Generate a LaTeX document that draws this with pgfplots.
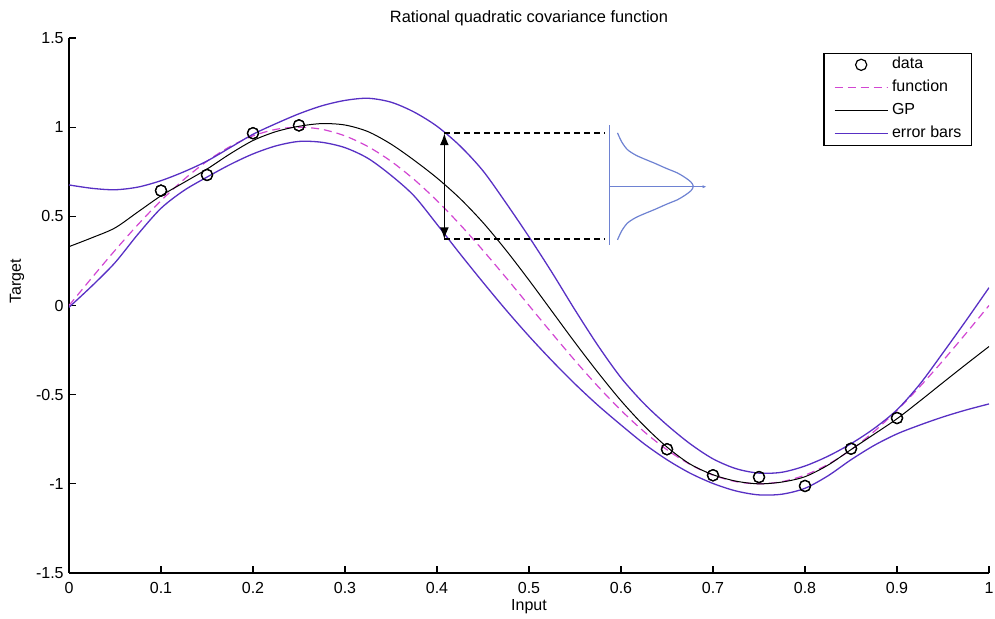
\documentclass[border=0pt]{standalone}
\usepackage{fontspec}
\setmainfont{Liberation Sans}
\usepackage{pgfplots}
\usepackage{pgfplotstable}
\pgfplotsset{compat=1.18}
\usetikzlibrary{arrows.meta,calc}
\definecolor{errc}{RGB}{88,48,196}
\definecolor{funcc}{RGB}{210,70,210}
\definecolor{annc}{RGB}{110,130,210}

\pgfplotstableread{
x      f        m       u       l
0      0        0.33    0.676   -0.01
0.025  0.1564   0.38    0.657   0.11
0.05   0.3090   0.435   0.649   0.24
0.075  0.4540   0.525   0.664   0.40
0.1    0.5878   0.615   0.70    0.545
0.125  0.7071   0.69    0.75    0.645
0.15   0.8090   0.765   0.81    0.72
0.175  0.8910   0.85    0.885   0.79
0.2    0.9511   0.925   0.96    0.85
0.225  0.9877   0.975   1.02    0.895
0.25   1        1.005   1.075   0.92
0.275  0.9877   1.02    1.12    0.915
0.3    0.9511   1.012   1.15    0.885
0.325  0.8910   0.975   1.162   0.825
0.35   0.8090   0.905   1.14    0.73
0.375  0.7071   0.815   1.085   0.615
0.4    0.5878   0.715   1.005   0.455
0.425  0.4540   0.60    0.895   0.29
0.45   0.3090   0.465   0.755   0.13
0.475  0.1564   0.31    0.575   -0.025
0.5    0        0.142   0.385   -0.172
0.525  -0.1564  -0.033  0.185   -0.31
0.55   -0.3090  -0.208  -0.025  -0.44
0.575  -0.4540  -0.376  -0.225  -0.56
0.6    -0.5878  -0.534  -0.405  -0.67
0.625  -0.7071  -0.674  -0.55   -0.775
0.65   -0.8090  -0.794  -0.67   -0.865
0.675  -0.8910  -0.889  -0.775  -0.94
0.7    -0.9511  -0.949  -0.86   -0.998
0.725  -0.9877  -0.985  -0.915  -1.04
0.75   -1       -1.0    -0.94   -1.062
0.775  -0.9877  -0.99   -0.935  -1.058
0.8    -0.9511  -0.96   -0.9    -1.025
0.825  -0.8910  -0.895  -0.845  -0.955
0.85   -0.8090  -0.808  -0.775  -0.865
0.875  -0.7071  -0.722  -0.69   -0.785
0.9    -0.5878  -0.635  -0.585  -0.72
0.925  -0.4540  -0.535  -0.44   -0.67
0.95   -0.3090  -0.432  -0.265  -0.625
0.975  -0.1564  -0.33   -0.085  -0.586
1.0    0        -0.23   0.10    -0.552
}\curves

\pgfplotstableread{
x     y
0.1   0.644
0.15  0.732
0.2   0.966
0.25  1.01
0.65  -0.806
0.7   -0.952
0.75  -0.962
0.8   -1.012
0.85  -0.803
0.9   -0.631
}\datapts

\pgfplotstableread{
x       y
0.5962  0.968
0.6007  0.918
0.6070  0.874
0.6161  0.843
0.6270  0.818
0.6360  0.799
0.6496  0.768
0.6614  0.743
0.6695  0.718
0.6759  0.693
0.6786  0.668
0.6759  0.643
0.6695  0.618
0.6614  0.593
0.6496  0.568
0.6360  0.537
0.6270  0.518
0.6161  0.493
0.6070  0.462
0.6007  0.418
0.5962  0.368
}\gauss

\begin{document}
\begin{tikzpicture}
\begin{axis}[name=ax, scale only axis, width=460pt, height=267.5pt,
  xmin=0, xmax=1, ymin=-1.5, ymax=1.5,
  axis x line*=bottom, axis y line*=left,
  xtick={0,0.1,0.2,0.3,0.4,0.5,0.6,0.7,0.8,0.9,1},
  ytick={-1.5,-1,-0.5,0,0.5,1,1.5},
  tick align=inside, major tick length=3.5pt,
  tick style={black, line width=0.6pt},
  axis line style={black, line width=0.6pt},
  /pgf/number format/assume math mode=true,
  ticklabel style={font=\fontsize{8}{9.6}\selectfont},
  xticklabel style={inner sep=0pt, yshift=-4.3pt},
  yticklabel style={inner sep=0pt, xshift=-2.5pt},
  every axis title shift=0pt,
  title={Rational quadratic covariance function},
  title style={font=\fontsize{8.2}{9.8}\selectfont, at={(axis description cs:0.5,1.037)}, anchor=center, inner sep=0pt},
  xlabel={Input},
  xlabel style={font=\fontsize{8}{9.6}\selectfont, at={(axis description cs:0.5,-0.0636)}, anchor=center, inner sep=0pt},
  ylabel={Target},
  ylabel style={font=\fontsize{8}{9.6}\selectfont, at={(axis description cs:-0.0565,0.545)}, anchor=center, inner sep=0pt},
  legend image code/.code={\draw[mark repeat=2,mark phase=2,#1] plot coordinates {(0pt,0pt) (13.25pt,0pt) (26.5pt,0pt)};},
  legend cell align=left,
  legend style={at={(0.9815,0.9725)}, anchor=north east, draw=black, line width=0.6pt,
    font=\fontsize{8}{9.6}\selectfont, inner xsep=5pt, inner ysep=2pt,
    nodes={inner sep=0pt, text height=5.8pt, text depth=1.7pt},
    row sep=4pt, /tikz/column sep=1.85pt},
]
\addplot[only marks, mark=o, mark size=2.8pt, black, mark options={line width=0.6pt}] table[x=x,y=y] {\datapts};
\addlegendentry{data}
\addplot[funcc, line width=0.6pt, dash pattern=on 4pt off 2.5pt, smooth] table[x=x,y=f] {\curves};
\addlegendentry{function}
\addplot[black, line width=0.5pt, smooth] table[x=x,y=m] {\curves};
\addlegendentry{GP}
\addplot[errc, line width=0.65pt, smooth] table[x=x,y=u] {\curves};
\addlegendentry{error bars}
\addplot[errc, line width=0.65pt, smooth, forget plot] table[x=x,y=l] {\curves};
% redraw markers on top
\addplot[only marks, mark=o, mark size=2.8pt, black, mark options={line width=0.6pt}, forget plot] table[x=x,y=y] {\datapts};
% annotation: dashed levels and double arrow
\addplot[black, line width=0.9pt, dash pattern=on 3pt off 2pt, forget plot] coordinates {(0.408,0.966) (0.583,0.966)};
\addplot[black, line width=0.9pt, dash pattern=on 3pt off 2pt, forget plot] coordinates {(0.408,0.371) (0.583,0.371)};
\addplot[black, line width=0.8pt, {Latex[length=6pt,width=4.5pt]}-{Latex[length=6pt,width=4.5pt]}, forget plot] coordinates {(0.408,0.371) (0.408,0.966)};
% annotation: distribution sketch
\addplot[annc, line width=0.5pt, forget plot] coordinates {(0.587,0.339) (0.587,1.012)};
\addplot[annc, line width=0.5pt, -{Latex[length=2pt,width=1.6pt]}, forget plot] coordinates {(0.587,0.666) (0.693,0.666)};
\addplot[annc, line width=0.6pt, smooth, forget plot] table[x=x,y=y] {\gauss};
\end{axis}
\pgfresetboundingbox
\path[use as bounding box] ($(ax.south west)+(-34.5pt,-23pt)$) rectangle ($(ax.north east)+(3pt,19pt)$);
\end{tikzpicture}
\end{document}
